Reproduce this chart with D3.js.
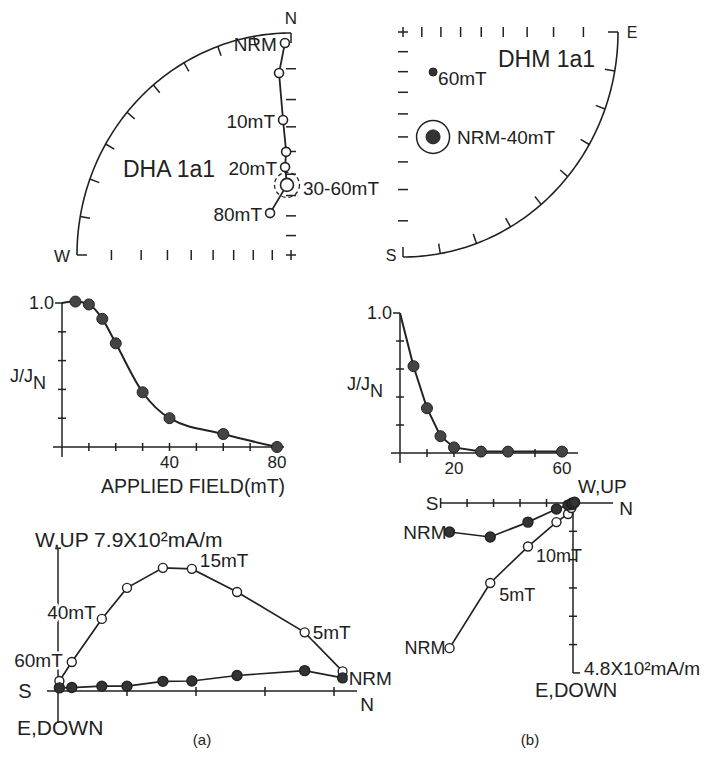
<!DOCTYPE html>
<html>
<head>
<meta charset="utf-8">
<script src="https://cdn.jsdelivr.net/npm/d3@7"></script>
<style>
  body { margin: 0; background: #fff; }
  text { font-family: 'Liberation Sans', Arial, sans-serif; fill: #222; }
</style>
</head>
<body>
<svg id="fig" width="716" height="759"></svg>
<script>
// ---- data ----

// (a) DHA 1a1 stereonet, AF steps (negative inclination = upper hemisphere, open)
let netStepsA = ['NRM', '5mT', '10mT', '15mT', '20mT', '30-60mT', '80mT']
let netDecA = [358.3, 356.1, 356.5, 357.2, 356.0, 356.6, 332.6]
let netIncA = [-2.6, -11.2, -27.3, -40.1, -46.7, -54.9, -66.0]
let netLabelsA = ['NRM', '', '10mT', '', '20mT', '30-60mT', '80mT']

// (b) DHM 1a1 stereonet (lower hemisphere, filled)
let netStepsB = ['NRM-40mT', '60mT']
let netDecB = [163.3, 141.8]
let netIncB = [38.1, 64.5]

// normalised intensity decay J/JN
let fieldsA = [0, 5, 10, 15, 20, 30, 40, 60, 80]
let intensA = [1.0, 1.01, 0.99, 0.89, 0.72, 0.38, 0.20, 0.09, 0.0]
let fieldsB = [0, 5, 10, 15, 20, 30, 40, 60]
let intensB = [1.0, 0.62, 0.32, 0.12, 0.04, 0.01, 0.01, 0.01]

// (a) orthogonal plot, x10^2 mA/m
let zStepsA = ['NRM', '5mT', '10mT', '15mT', '20mT', '30mT', '40mT', '60mT', '80mT']
let zNorthA = [8.25, 7.15, 5.19, 3.88, 3.04, 2.0, 1.27, 0.40, 0.04]
let zWestA = [0.38, 0.59, 0.45, 0.29, 0.28, 0.14, 0.14, 0.10, 0.09]
let zUpA = [0.57, 1.70, 2.87, 3.54, 3.57, 2.99, 2.09, 0.84, 0.29]
let zLabelsA = ['NRM', '5mT', '', '15mT', '', '', '40mT', '60mT', '']

// (b) orthogonal plot, x10^2 mA/m
let zStepsB = ['NRM', '5mT', '10mT', '15mT', '20mT', '30mT', '40mT', '60mT']
let zNorthB = [-3.73, -2.50, -1.36, -0.50, -0.15, -0.05, -0.02, 0.05]
let zEastB = [0.82, 0.96, 0.54, 0.17, 0.06, 0.02, 0.0, -0.02]
let zDownB = [4.10, 2.26, 1.23, 0.54, 0.31, 0.14, 0.06, 0.0]
let zOpenLabelsB = ['NRM', '5mT', '10mT', '', '', '', '', '']
let zFillLabelsB = ['NRM', '', '', '', '', '', '', '']

// ---- drawing ----
let svg = d3.select('#fig')
let ink = '#222'
let rad = Math.PI / 180

function seg(g, x1, y1, x2, y2, w) {
  g.append('line')
    .attr('x1', x1).attr('y1', y1).attr('x2', x2).attr('y2', y2)
    .attr('stroke', ink).attr('stroke-width', w || 1.5)
}

function label(g, x, y, str, size, anchor) {
  return g.append('text')
    .attr('x', x).attr('y', y)
    .attr('dy', '0.35em')
    .attr('font-size', size)
    .attr('text-anchor', anchor || 'start')
    .text(str)
}

function stereo(dec, inc) {
  let r = Math.tan((90 - Math.abs(inc)) / 2 * rad)
  return [r * Math.sin(dec * rad), r * Math.cos(dec * rad)]
}

function drawNet(opt) {
  let g = svg.append('g')
  let x = d3.scaleLinear().domain([-1, 1]).range([opt.cx - opt.rx, opt.cx + opt.rx])
  let y = d3.scaleLinear().domain([-1, 1]).range([opt.cy + opt.ry, opt.cy - opt.ry])
  let proj = (dec, inc) => {
    let p = stereo(dec, inc)
    return [x(p[0]), y(p[1])]
  }

  // primitive circle, one quadrant
  let az = d3.range(opt.az0, opt.az0 + 90.5, 1)
  g.append('path')
    .attr('d', d3.line()(az.map(a => proj(a, 0))))
    .attr('fill', 'none')
    .attr('stroke', ink)
    .attr('stroke-width', 1.6)

  d3.range(10, 90, 10).forEach(k => {
    let [px, py] = proj(opt.az0 + k, 0)
    let dx = opt.cx - px
    let dy = opt.cy - py
    let len = Math.hypot(dx, dy)
    seg(g, px, py, px + dx / len * 10, py + dy / len * 10)
  })

  // inclination ticks along the two axes
  let axes = [opt.az0, opt.az0 + 90]
  axes.forEach(a => {
    let eastWest = Math.abs(Math.sin(a * rad)) > 0.5
    d3.range(10, 90, 10).forEach(i => {
      let [px, py] = proj(a, i)
      if (eastWest) seg(g, px, py - 5, px, py + 5)
      else seg(g, px - 5, py, px + 5, py)
    })
    let [ex, ey] = proj(a, 0)
    if (eastWest) seg(g, ex, ey, ex + Math.sign(opt.cx - ex) * 10, ey)
    else seg(g, ex, ey, ex, ey + Math.sign(opt.cy - ey) * 10)
  })

  seg(g, opt.cx - 5, opt.cy, opt.cx + 5, opt.cy)
  seg(g, opt.cx, opt.cy - 5, opt.cx, opt.cy + 5)

  return { g, proj }
}

// (a) stereonet
let netA = drawNet({ cx: 291, cy: 255, rx: 214, ry: 222, az0: 270 })
let ptsA = netDecA.map((d, i) => netA.proj(d, netIncA[i]))
netA.g.append('path')
  .attr('d', d3.line()(ptsA))
  .attr('fill', 'none')
  .attr('stroke', ink)
  .attr('stroke-width', 1.8)
ptsA.forEach((p, i) => {
  let combined = netStepsA[i].includes('-')
  if (combined) {
    netA.g.append('circle')
      .attr('cx', p[0]).attr('cy', p[1]).attr('r', 12.5)
      .attr('fill', 'none').attr('stroke', ink)
      .attr('stroke-width', 1.3).attr('stroke-dasharray', '4,3')
  }
  netA.g.append('circle')
    .attr('cx', p[0]).attr('cy', p[1]).attr('r', combined ? 6.5 : 4.5)
    .attr('fill', '#fff').attr('stroke', ink).attr('stroke-width', 1.6)
  let t = netLabelsA[i]
  if (!t) return
  if (combined) label(netA.g, p[0] + 16, p[1] + 3, t, 19)
  else label(netA.g, p[0] - 8, p[1] + 1, t, 19, 'end')
})
label(netA.g, 291, 18, 'N', 17, 'middle')
label(netA.g, 62, 256, 'W', 17, 'middle')
label(netA.g, 123, 169, 'DHA 1a1', 23)

// (b) stereonet
let netB = drawNet({ cx: 403, cy: 32, rx: 215, ry: 225, az0: 90 })
netDecB.forEach((d, i) => {
  let p = netB.proj(d, netIncB[i])
  let combined = netStepsB[i].includes('-')
  if (combined) {
    netB.g.append('circle')
      .attr('cx', p[0]).attr('cy', p[1]).attr('r', 16.5)
      .attr('fill', 'none').attr('stroke', ink).attr('stroke-width', 1.5)
  }
  netB.g.append('circle')
    .attr('cx', p[0]).attr('cy', p[1]).attr('r', combined ? 7 : 4)
    .attr('fill', '#333').attr('stroke', ink)
  label(netB.g, p[0] + (combined ? 24 : 5), p[1] + (combined ? 0 : 6), netStepsB[i], 19)
})
label(netB.g, 632, 32, 'E', 16, 'middle')
label(netB.g, 391, 255, 'S', 16, 'middle')
label(netB.g, 498, 59, 'DHM 1a1', 23)

// J/JN decay curves
function drawDecay(opt) {
  let g = svg.append('g')
  let x = d3.scaleLinear().domain([0, opt.xmax]).range([opt.x0, opt.x1])
  let y = d3.scaleLinear().domain([0, 1]).range([opt.y0, opt.y1])

  seg(g, x(0) - 9, y(0), opt.xEnd, y(0))
  seg(g, x(0), y(1), x(0), y(0) + 10)
  seg(g, x(0) - 7, y(1), x(0), y(1))
  d3.range(10, opt.xmax + 1, 10).forEach(v => seg(g, x(v), y(0) - 4, x(v), y(0) + 4))
  d3.range(0.2, 0.9, 0.2).forEach(v => seg(g, x(0) - 4, y(v), x(0) + 4, y(v)))

  label(g, x(0) - 8, y(1), '1.0', 18, 'end')
  let jl = g.append('text')
    .attr('x', opt.jx).attr('y', y(0.45))
    .attr('font-size', 18)
  jl.append('tspan').text('J/J')
  jl.append('tspan').attr('dy', 7).text('N')
  opt.tickLabels.forEach(v => label(g, x(v), y(0) + 15, v, 17, 'middle'))

  let pts = opt.fields.map((f, i) => [x(f), y(opt.values[i])])
  g.append('path')
    .attr('d', d3.line().curve(opt.curve)(pts))
    .attr('fill', 'none')
    .attr('stroke', ink)
    .attr('stroke-width', 2)
  g.selectAll('.dot')
    .data(pts.slice(1))
    .enter()
    .append('circle')
    .attr('class', 'dot')
    .attr('cx', d => d[0])
    .attr('cy', d => d[1])
    .attr('r', 5.5)
    .attr('fill', '#444')
    .attr('stroke', ink)
  return g
}

let decayA = drawDecay({
  x0: 62, x1: 277, xEnd: 284, xmax: 80, y0: 447, y1: 303, jx: 10,
  fields: fieldsA, values: intensA, tickLabels: [40, 80], curve: d3.curveMonotoneX
})
label(decayA, 193, 486, 'APPLIED FIELD(mT)', 19.5, 'middle')

drawDecay({
  x0: 400, x1: 562, xEnd: 578, xmax: 60, y0: 453, y1: 313, jx: 347,
  fields: fieldsB, values: intensB, tickLabels: [20, 60], curve: d3.curveLinear
})

// orthogonal vector plots
function dots(g, pts, filled) {
  g.selectAll(null)
    .data(pts)
    .enter()
    .append('circle')
    .attr('cx', d => d[0])
    .attr('cy', d => d[1])
    .attr('r', filled ? 5 : 4.5)
    .attr('fill', filled ? '#333' : '#fff')
    .attr('stroke', ink)
    .attr('stroke-width', 1.4)
}

function trace(g, pts) {
  g.append('path')
    .attr('d', d3.line()(pts))
    .attr('fill', 'none')
    .attr('stroke', ink)
    .attr('stroke-width', 1.7)
}

function haloLabel(g, x, y, str, anchor) {
  label(g, x, y, str, 19, anchor)
    .attr('stroke', '#fff').attr('stroke-width', 5)
    .attr('paint-order', 'stroke')
}

// (a)
let zA = svg.append('g')
let xa = d3.scaleLinear().domain([0, 8]).range([58, 334])
let ya = d3.scaleLinear().domain([0, 4]).range([691, 553])
seg(zA, xa(-0.32), ya(0), xa(8.67), ya(0))
seg(zA, xa(0), ya(4.14), xa(0), ya(-0.93))
seg(zA, xa(0) - 3, ya(4.14), xa(0) + 3, ya(4.14))
d3.range(2, 9, 2).forEach(v => seg(zA, xa(v), ya(0) - 4, xa(v), ya(0) + 5))

let openA = zNorthA.map((n, i) => [xa(n), ya(zUpA[i])])
let fillA = zNorthA.map((n, i) => [xa(n), ya(zWestA[i])])
trace(zA, openA)
trace(zA, fillA)
dots(zA, openA, false)
dots(zA, fillA, true)

let placeA = { 'NRM': ['start', 6, 7], '5mT': ['start', 8, 0], '15mT': ['start', 8, -9],
  '40mT': ['end', -6, -7], '60mT': ['end', -9, -2] }
zLabelsA.forEach((t, i) => {
  if (!t) return
  let [anchor, dx, dy] = placeA[t]
  haloLabel(zA, openA[i][0] + dx, openA[i][1] + dy, t, anchor)
})
label(zA, 35, 540, 'W,UP 7.9X10\u00B2mA/m', 21)
label(zA, 25, 691, 'S', 20, 'middle')
label(zA, 367, 704, 'N', 19, 'middle')
label(zA, 17, 728, 'E,DOWN', 21)
label(zA, 202, 740, '(a)', 15, 'middle')

// (b)
let zB = svg.append('g')
let xb = d3.scaleLinear().domain([0, 1]).range([573, 606.1])
let yb = d3.scaleLinear().domain([0, 1]).range([503, 538.4])
seg(zB, xb(-4.0), yb(0), 613, yb(0))
seg(zB, xb(-4.0), yb(0) - 5, xb(-4.0), yb(0) + 5)
d3.range(-0.8, -3.3, -0.8).forEach(v => seg(zB, xb(v), yb(0) - 4, xb(v), yb(0) + 4))
seg(zB, xb(0), yb(-0.1), xb(0), yb(4.8))
seg(zB, xb(0), yb(4.8), xb(0) + 7, yb(4.8))
d3.range(0.8, 4.1, 0.8).forEach(v => seg(zB, xb(0) - 4, yb(v), xb(0) + 4, yb(v)))

let openB = zNorthB.map((n, i) => [xb(n), yb(zDownB[i])])
let fillB = zNorthB.map((n, i) => [xb(n), yb(zEastB[i])])
trace(zB, openB)
trace(zB, fillB)
dots(zB, openB, false)
dots(zB, fillB, true)

zFillLabelsB.forEach((t, i) => {
  if (t) label(zB, fillB[i][0] - 3, fillB[i][1], t, 19, 'end')
})
let placeB = { 'NRM': ['end', -4, 0], '5mT': ['start', 9, 12], '10mT': ['start', 8, 9] }
zOpenLabelsB.forEach((t, i) => {
  if (!t) return
  let [anchor, dx, dy] = placeB[t]
  label(zB, openB[i][0] + dx, openB[i][1] + dy, t, 18, anchor)
})
label(zB, 432, 503, 'S', 19, 'middle')
label(zB, 626, 508, 'N', 19, 'middle')
label(zB, 578, 486, 'W,UP', 19)
label(zB, 584, 668, '4.8X10\u00B2mA/m', 19)
label(zB, 535, 690, 'E,DOWN', 20)
label(zB, 530, 740, '(b)', 15, 'middle')
</script>
</body>
</html>
